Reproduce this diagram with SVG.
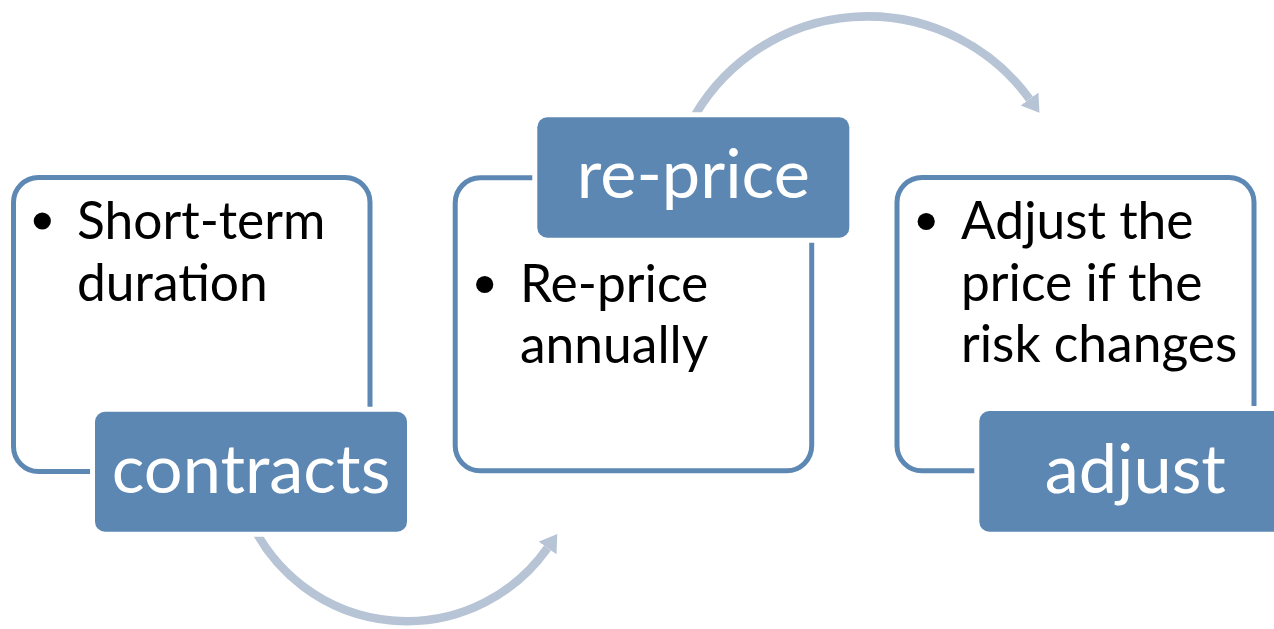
<svg xmlns="http://www.w3.org/2000/svg" width="1274" height="629" viewBox="0 0 1274 629">
  <style>
    .frame { fill: #ffffff; stroke: #5d88b3; stroke-width: 5; }
    .tab { fill: #5b87b2; stroke: #ffffff; stroke-width: 10; paint-order: stroke; }
    .tab-text { font-family: Lato, "Open Sans", sans-serif; font-size: 68.5px; fill: #ffffff; text-anchor: middle; }
    .body { font-family: Lato, "Open Sans", sans-serif; font-size: 51.5px; fill: #000000; }
    .dot { fill: #000000; }
    .flow { fill: none; stroke: #b6c4d6; stroke-width: 8.5; stroke-linecap: butt; }
  </style>
  <defs>
    <marker id="head" markerUnits="userSpaceOnUse" viewBox="0 0 18 24" markerWidth="18" markerHeight="24" refX="0" refY="12" orient="auto">
      <path d="M0,1 L17,12 L0,23 Z" fill="#b6c4d6"/>
    </marker>
  </defs>

  <!-- curved arrows between the steps, drawn first so the tabs sit on top -->
  <g id="connectors">
    <path class="flow" d="M 250.9,521.8 A 172 172 0 0 0 547.5,548" marker-end="url(#head)"/>
    <path class="flow" d="M 689.7,125 A 200 200 0 0 1 1029.5,99" marker-end="url(#head)"/>
  </g>

  <!-- step 1 -->
  <g id="node-contracts">
    <rect class="frame" x="13.5" y="177.5" width="356.5" height="294" rx="25"/>
    <circle class="dot" cx="42.3" cy="221" r="8.6"/>
    <text class="body" x="77"><tspan x="77" y="239">Short-term</tspan><tspan x="77" y="300.5">duration</tspan></text>
    <rect class="tab" x="95" y="411.7" width="312" height="120" rx="10"/>
    <text class="tab-text" x="251" y="493.3">contracts</text>
  </g>

  <!-- step 2 -->
  <g id="node-reprice">
    <rect class="frame" x="455.2" y="177.8" width="356.5" height="293" rx="25"/>
    <circle class="dot" cx="484.7" cy="284.5" r="8.6"/>
    <text class="body" x="520"><tspan x="520" y="301.7">Re-price</tspan><tspan x="520" y="363.2">annually</tspan></text>
    <rect class="tab" x="537.3" y="117.3" width="312" height="120.4" rx="10"/>
    <text class="tab-text" x="693.3" y="198.3">re-price</text>
  </g>

  <!-- step 3 -->
  <g id="node-adjust">
    <rect class="frame" x="897" y="177.5" width="357" height="293.3" rx="25"/>
    <circle class="dot" cx="926.2" cy="221.5" r="8.6"/>
    <text class="body" x="961"><tspan x="961" y="239">Adjust the</tspan><tspan x="961" y="300.5">price if the</tspan><tspan x="961" y="361.7">risk changes</tspan></text>
    <rect class="tab" x="979.3" y="411" width="312" height="120.7" rx="10"/>
    <text class="tab-text" x="1135.3" y="493.3">adjust</text>
  </g>
</svg>
